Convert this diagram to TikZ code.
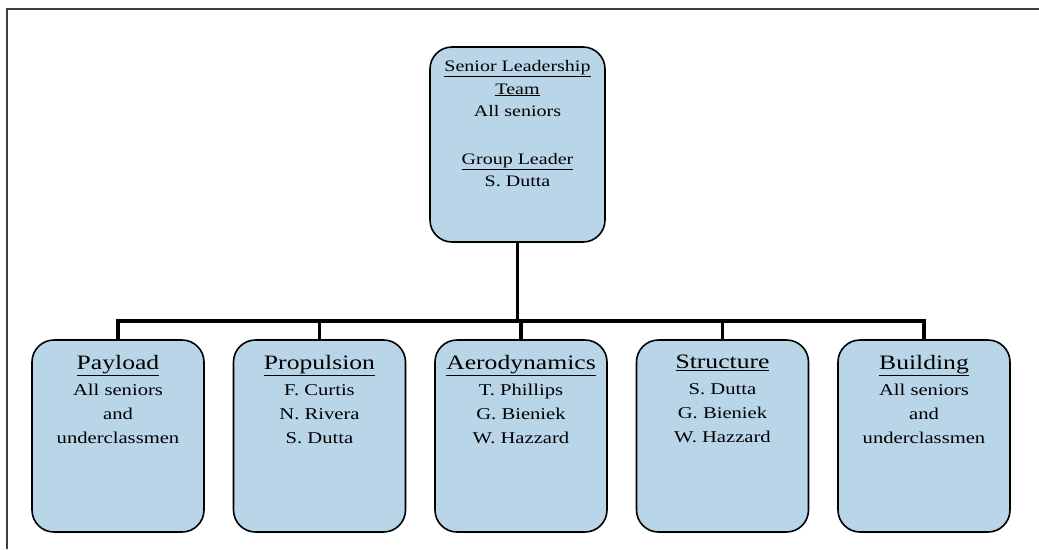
\documentclass[tikz,border=0pt]{standalone}
\usepackage{fontspec}
\setmainfont[FakeStretch=1.25]{Liberation Serif}
\usetikzlibrary{positioning}
\definecolor{teamblue}{RGB}{185,214,233}
\newcommand{\tname}[1]{{\fontsize{20.5}{24}\selectfont\underline{#1}}}
\tikzset{
    teambox/.style={rectangle, rounded corners=22pt, draw=black, fill=teamblue, line width=1.6pt, minimum width=172pt, minimum height=192pt},
    leadbox/.style={teambox, minimum width=175pt, minimum height=195pt},
    teamtxt/.style={align=center, inner sep=0pt, font=\fontsize{16.5}{24}\selectfont},
    leadtxt/.style={align=center, inner sep=0pt, font=\fontsize{16}{22.5}\selectfont},
    wire/.style={line width=3.5pt, black, line join=miter},
    frame/.style={line width=1.8pt, black!75}
}
\begin{document}
\begin{tikzpicture}[x=1pt, y=-1pt]
    \useasboundingbox (0,0) rectangle (1039,549);
    % Frame
    \draw[frame] (7,549) -- (7,9) -- (1039,9);

    % Leadership box
    \node[leadbox] (lead) at (517.5,144.5) {};
    \node[leadtxt, below=14pt of lead.north] (lead-txt) {\underline{Senior Leadership}\\\underline{Team}\\All seniors\\[25pt]\underline{Group Leader}\\S. Dutta};

    % Sub-teams
    \foreach \nm/\ttl/\body [count=\i from 0] in {
        payload/Payload/{All seniors\\and\\underclassmen},
        propulsion/Propulsion/{F. Curtis\\N. Rivera\\S. Dutta},
        aero/Aerodynamics/{T. Phillips\\G. Bieniek\\W. Hazzard},
        structure/Structure/{S. Dutta\\G. Bieniek\\W. Hazzard},
        building/Building/{All seniors\\and\\underclassmen}} {
        \node[teambox] (\nm) at ({118+201.5*\i},436) {};
        \node[teamtxt, below=16pt of \nm.north] (\nm-txt) {\tname{\ttl}\\[2pt]\body};
        \draw[wire] (lead.south) -- ++(0,78) -| (\nm.north);
    }
\end{tikzpicture}
\end{document}
